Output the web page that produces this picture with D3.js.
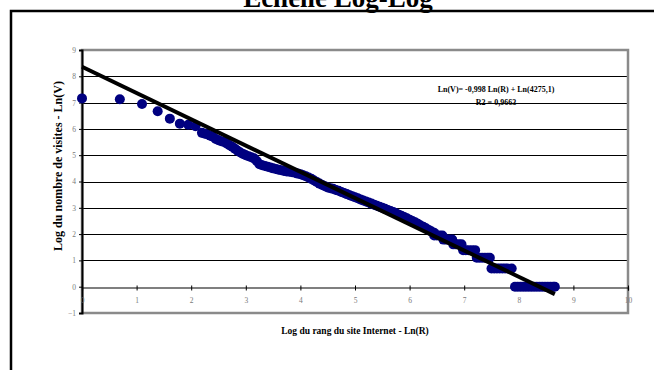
<!DOCTYPE html>
<html><head><meta charset="utf-8">
<script src="https://cdn.jsdelivr.net/npm/d3@7"></script>
<style>html,body{margin:0;padding:0;background:#fff;}svg{display:block;font-family:"Liberation Serif","Times New Roman",serif;}</style>
</head><body>
<svg id="c" width="654" height="370"></svg>
<script>
// ---- data ----
const title = "Echelle Log-Log";
const xLabel = "Log du rang du site Internet - Ln(R)";
const yLabel = "Log du nombre de visites - Ln(V)";
const eqLine1 = "Ln(V)= -0,998 Ln(R) + Ln(4275,1)";
const eqLine2 = "R2 = 0,9663";
const trendSlope = -0.998;
const trendIntercept = Math.log(4275.1);
const trendRange = [0, 8.66];
const xTicks = [0,1,2,3,4,5,6,7,8,9,10];
const yTicks = [-1,0,1,2,3,4,5,6,7,8,9];
// scatter: ln(rank) and ln(visits)
const lnRank = [
 0, 0.693, 1.099, 1.386, 1.609, 1.792, 1.946, 2.079, 2.197, 2.25, 2.303, 2.35, 2.398, 2.45, 2.5, 2.55, 2.6, 2.65, 2.7, 2.75,
 2.8, 2.85, 2.9, 2.95, 3.0, 3.05, 3.1, 3.15, 3.2, 3.25, 3.3, 3.35, 3.4, 3.45, 3.5, 3.55, 3.6, 3.65, 3.7, 3.75,
 3.8, 3.85, 3.9, 3.95, 4.0, 4.05, 4.1, 4.15, 4.2, 4.25, 4.3, 4.35, 4.4, 4.45, 4.5, 4.55, 4.6, 4.65, 4.7, 4.75,
 4.8, 4.85, 4.9, 4.95, 5.0, 5.05, 5.1, 5.15, 5.2, 5.25, 5.3, 5.35, 5.4, 5.45, 5.5, 5.55, 5.6, 5.65, 5.7, 5.75,
 5.8, 5.85, 5.9, 5.95, 6.0, 6.05, 6.1, 6.15, 6.2, 6.25, 6.3, 6.35, 6.4, 6.45,
 6.45, 6.5, 6.55, 6.6,
 6.62, 6.67, 6.72, 6.78,
 6.8, 6.85, 6.9, 6.95,
 6.98, 7.03, 7.08, 7.14, 7.2,
 7.23, 7.28, 7.33, 7.38, 7.43, 7.47,
 7.5, 7.55, 7.6, 7.65, 7.7, 7.75, 7.8, 7.87,
 7.93, 7.98, 8.03, 8.08, 8.13, 8.18, 8.23, 8.28, 8.33, 8.38, 8.43, 8.48, 8.53, 8.58, 8.63, 8.66
];
const lnVisits = [
 7.16, 7.13, 6.95, 6.67, 6.39, 6.2, 6.16, 6.1, 5.85, 5.82, 5.79, 5.74, 5.7, 5.62, 5.57, 5.53, 5.5, 5.45, 5.38, 5.32,
 5.25, 5.17, 5.1, 5.05, 5.0, 4.96, 4.92, 4.88, 4.78, 4.66, 4.62, 4.59, 4.56, 4.53, 4.5, 4.48, 4.45, 4.43, 4.4, 4.38,
 4.37, 4.35, 4.33, 4.3, 4.28, 4.24, 4.2, 4.15, 4.1, 4.04, 3.98, 3.92, 3.87, 3.82, 3.77, 3.74, 3.72, 3.68, 3.65, 3.6,
 3.56, 3.52, 3.48, 3.44, 3.4, 3.36, 3.32, 3.28, 3.24, 3.2, 3.16, 3.12, 3.08, 3.04, 3.0, 2.96, 2.92, 2.88, 2.84, 2.79,
 2.74, 2.7, 2.65, 2.6, 2.55, 2.5, 2.45, 2.39, 2.33, 2.28, 2.22, 2.16, 2.1, 2.05,
 1.95, 1.95, 1.95, 1.95,
 1.79, 1.79, 1.79, 1.79,
 1.61, 1.61, 1.61, 1.61,
 1.39, 1.39, 1.39, 1.39, 1.39,
 1.1, 1.1, 1.1, 1.1, 1.1, 1.1,
 0.69, 0.69, 0.69, 0.69, 0.69, 0.69, 0.69, 0.69,
 0, 0, 0, 0, 0, 0, 0, 0, 0, 0, 0, 0, 0, 0, 0, 0
];

// ---- drawing ----
const svg = d3.select("#c");
const plot = {left: 82, right: 628, top: 50, bottom: 313};
const x = d3.scaleLinear().domain([0, 10]).range([plot.left, plot.right]);
const y = d3.scaleLinear().domain([-1, 9]).range([plot.bottom, plot.top]);

// outer chart frame
svg.append("rect").attr("x", 11).attr("y", 11).attr("width", 700).attr("height", 400)
  .attr("fill", "#fff").attr("stroke", "#000").attr("stroke-width", 2.5);

// title
svg.append("text").attr("x", 338).attr("y", 7).attr("text-anchor", "middle")
  .attr("font-size", 27).attr("font-weight", "bold").text(title);

// gridlines
svg.append("g").selectAll("line").data(yTicks.filter(d => d > 0 && d < 9)).join("line")
  .attr("x1", plot.left).attr("x2", plot.right)
  .attr("y1", d => Math.round(y(d)) + 0.5).attr("y2", d => Math.round(y(d)) + 0.5)
  .attr("stroke", "#000").attr("stroke-width", 1);

// plot border (grey)
svg.append("rect").attr("x", plot.left).attr("y", plot.top).attr("width", plot.right - plot.left).attr("height", plot.bottom - plot.top)
  .attr("fill", "none").attr("stroke", "#8a8a8a").attr("stroke-width", 2.5);

// y axis
const yAxis = d3.axisLeft(y).tickValues(yTicks).tickSize(3).tickFormat(d3.format("d"));
const gy = svg.append("g").attr("transform", `translate(${plot.left},0)`).call(yAxis);
gy.select(".domain").attr("stroke", "#000").attr("stroke-width", 2);
gy.selectAll(".tick line").attr("stroke", "#000");
gy.selectAll(".tick text").attr("fill", "#7a7a7a").attr("font-size", 7.5)
  .attr("font-family", "Liberation Serif, serif").attr("x", -6);

// x axis along y = 0
const xAxis = d3.axisBottom(x).tickValues(xTicks).tickSize(3).tickFormat(d3.format("d"));
const gx = svg.append("g").attr("transform", `translate(0,${Math.round(y(0)) + 0.5})`).call(xAxis);
gx.select(".domain").attr("stroke", "#000").attr("stroke-width", 1.2);
gx.selectAll(".tick line").attr("stroke", "#000").attr("y1", -2);
gx.selectAll(".tick text").attr("fill", "#7a7a7a").attr("font-size", 7.5)
  .attr("font-family", "Liberation Serif, serif").attr("y", 10);

// scatter points
const pts = lnRank.map((r, i) => [r, lnVisits[i]]);
svg.append("g").selectAll("circle").data(pts).join("circle")
  .attr("cx", d => x(d[0])).attr("cy", d => y(d[1])).attr("r", 5)
  .attr("fill", "#000080");

// trend line
const line = d3.line().x(d => x(d)).y(d => y(trendSlope * d + trendIntercept));
svg.append("path").datum(trendRange).attr("d", line)
  .attr("fill", "none").attr("stroke", "#000").attr("stroke-width", 4);

// equation
svg.append("text").attr("x", 496).attr("y", 92).attr("text-anchor", "middle")
  .attr("font-size", 8).attr("font-weight", "bold").text(eqLine1);
svg.append("text").attr("x", 496).attr("y", 104.5).attr("text-anchor", "middle")
  .attr("font-size", 8).attr("font-weight", "bold").text(eqLine2);

// axis titles
svg.append("text").attr("x", 355).attr("y", 334).attr("text-anchor", "middle")
  .attr("font-size", 9.5).attr("font-weight", "bold").text(xLabel);
svg.append("text").attr("transform", "translate(62,166) rotate(-90)").attr("text-anchor", "middle")
  .attr("font-size", 12).attr("font-weight", "bold").text(yLabel);
</script>
</body></html>
